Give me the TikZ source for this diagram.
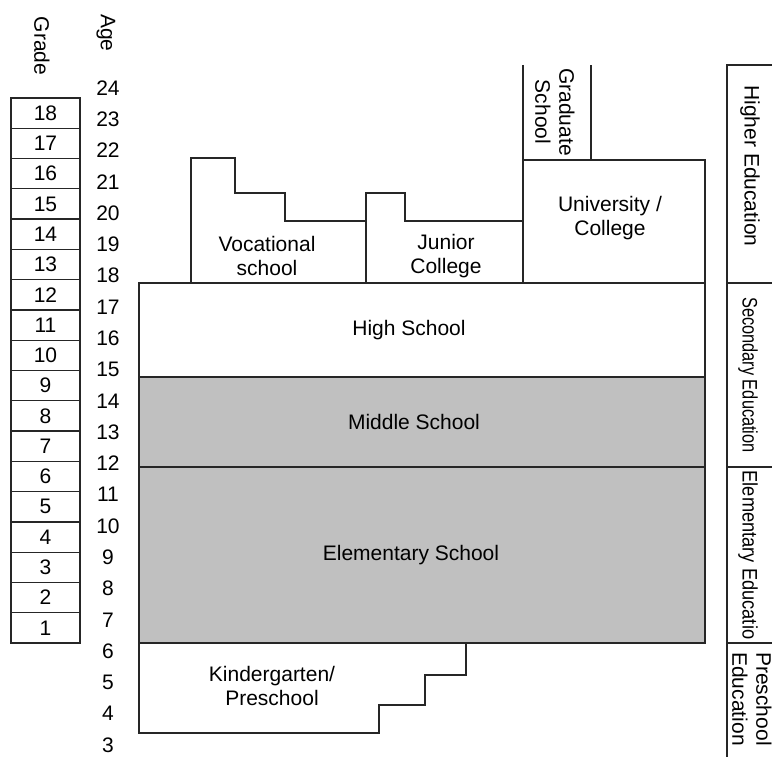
\documentclass[tikz,border=0pt]{standalone}
\usepackage{fontspec}
\setmainfont{Liberation Sans}
\usepackage{tikz}
\definecolor{blockgray}{RGB}{192,192,192}

\begin{document}
\begin{tikzpicture}[x=1pt, y=-1pt, line width=1.3pt,
	every node/.style={font=\fontsize{21}{24}\selectfont, align=center, inner sep=0pt},
	box/.style={draw=black!85},
	shaded/.style={draw=black!85, fill=blockgray},
	side/.style={rotate=-90}]
	\useasboundingbox (0,0) rectangle (772,757);
	\clip (0,0) rectangle (772,757);

	% grade column and ages
	\node[side] (grade) at (42,46) {Grade};
	\node[side] (age) at (106,33) {Age};
	\foreach \g in {1,...,18} {
		\draw[box] (11,{643-(\g-1)*30.28}) rectangle (80,{643-\g*30.28});
		\node (g\g) at (45.5,{643-(\g-0.5)*30.28}) {\g};
	}
	\foreach \a in {3,...,24}
		\node (a\a) at (108,{745-(\a-3)*31.29}) {\a};

	% school blocks
	\draw[box] (139,283) rectangle (705,377);
	\draw[shaded] (139,377) rectangle (705,467);
	\draw[shaded] (139,467) rectangle (705,643);
	\draw[box] (139,643) -- (466,643) -- (466,675) -- (425,675) -- (425,705)
		-- (379,705) -- (379,733) -- (139,733) -- cycle;
	\draw[box] (191,283) -- (191,158) -- (235,158) -- (235,193) -- (285,193)
		-- (285,221) -- (366,221) -- (366,283);
	\draw[box] (366,283) -- (366,193) -- (405,193) -- (405,221) -- (523,221)
		-- (523,283);
	\draw[box] (523,160) rectangle (705,283);
	\draw[box] (523,65) -- (523,160) -- (591,160) -- (591,65);

	\node (voc) at (267,256) {Vocational\\school};
	\node (jun) at (446,256) {Junior\\College};
	\node (uni) at (610,218) {University /\\College};
	\node[side] (grad) at (555,112) {Graduate\\School};
	\node (high) at (409,330) {High School};
	\node (mid) at (414,422) {Middle School};
	\node (elem) at (411,555) {Elementary School};
	\node (kind) at (272,686) {Kindergarten/\\Preschool};

	% stages on the right
	\draw[box] (727,65) rectangle (790,283);
	\draw[box] (727,283) rectangle (790,467);
	\draw[box] (727,467) rectangle (790,643);
	\draw[box] (790,643) -- (727,643) -- (727,770);
	\node[side] (higher) at (750,166) {Higher Education};
	\node[side] (second) at (748,375) {\scalebox{0.78}[1]{Secondary Education}};
	\node[side] (elemedu) at (748,555) {\scalebox{0.87}[1]{Elementary Educatio}};
	\node[side] (pre) at (752,699) {Preschool\\Education};
\end{tikzpicture}
\end{document}
